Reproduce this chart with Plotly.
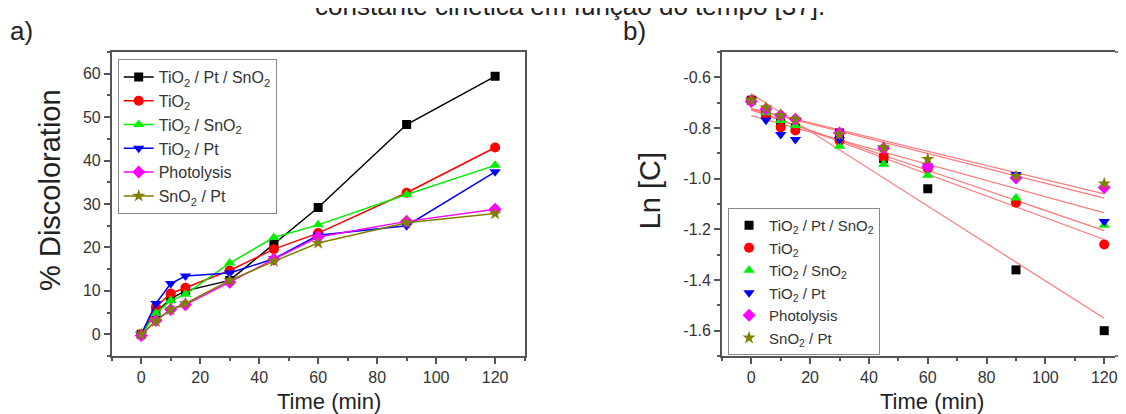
import numpy as np
import plotly.graph_objects as go

# ---------------- data ----------------
time_min = [0, 5, 10, 15, 30, 45, 60, 90, 120]

series_names = [
    "TiO<sub>2</sub> / Pt / SnO<sub>2</sub>",
    "TiO<sub>2</sub>",
    "TiO<sub>2</sub> / SnO<sub>2</sub>",
    "TiO<sub>2</sub> / Pt",
    "Photolysis",
    "SnO<sub>2</sub> / Pt",
]

# panel a) % discoloration
disc_tio2_pt_sno2 = [0, 5.0, 8.2, 10.0, 12.4, 20.7, 29.2, 48.3, 59.4]
disc_tio2 = [0, 6.3, 9.4, 10.7, 14.7, 19.6, 23.3, 32.6, 43.0]
disc_tio2_sno2 = [0, 4.8, 7.8, 9.2, 16.4, 22.3, 25.2, 32.2, 38.9]
disc_tio2_pt = [0, 7.1, 11.7, 13.4, 14.1, 17.4, 22.8, 25.0, 37.4]
disc_photolysis = [-0.3, 3.2, 5.7, 6.8, 12.0, 17.3, 22.4, 26.0, 28.8]
disc_sno2_pt = [0, 3.0, 5.7, 7.1, 12.4, 16.8, 21.0, 25.7, 27.8]

# panel b) Ln [C]
ln_tio2_pt_sno2 = [-0.69, -0.745, -0.78, -0.80, -0.82, -0.92, -1.04, -1.36, -1.60]
ln_tio2 = [-0.69, -0.755, -0.798, -0.81, -0.85, -0.914, -0.96, -1.095, -1.26]
ln_tio2_sno2 = [-0.69, -0.74, -0.77, -0.79, -0.872, -0.943, -0.987, -1.076, -1.184]
ln_tio2_pt = [-0.69, -0.769, -0.826, -0.845, -0.845, -0.88, -0.95, -0.984, -1.169]
ln_photolysis = [-0.695, -0.725, -0.75, -0.765, -0.82, -0.88, -0.953, -0.997, -1.035]
ln_sno2_pt = [-0.69, -0.72, -0.75, -0.765, -0.825, -0.877, -0.923, -0.99, -1.02]

x_ticks = [0, 20, 40, 60, 80, 100, 120]
ya_ticks = [0, 10, 20, 30, 40, 50, 60]
yb_ticks = [-0.6, -0.8, -1.0, -1.2, -1.4, -1.6]
yb_ticklabels = ["-0.6", "-0.8", "-1.0", "-1.2", "-1.4", "-1.6"]

title_text = "constante cinética em função do tempo [37]."

# ---------------- styles ----------------
colors = ["#000000", "#ff0000", "#00ee00", "#0000ff", "#ff00ff", "#808000"]
symbols = ["square", "circle", "triangle-up", "triangle-down", "diamond", "star"]
sizes = [9, 10, 10, 10, 10, 10]
FONT = "Liberation Sans, Arial, sans-serif"
TICKC = "#333333"
AXC = "#555555"
OFF = 8  # page body margin offset

disc_all = [disc_tio2_pt_sno2, disc_tio2, disc_tio2_sno2, disc_tio2_pt,
            disc_photolysis, disc_sno2_pt]
ln_all = [ln_tio2_pt_sno2, ln_tio2, ln_tio2_sno2, ln_tio2_pt,
          ln_photolysis, ln_sno2_pt]

fig = go.Figure()

# panel a
for name, vals, c, s, sz in zip(series_names, disc_all, colors, symbols, sizes):
    fig.add_trace(go.Scatter(
        x=time_min, y=vals, mode="lines+markers", name=name,
        line=dict(color=c, width=1.5),
        marker=dict(symbol=s, size=sz, color=c),
        xaxis="x", yaxis="y", legend="legend"))

# panel b: linear fits (drawn first)
xt = np.array(time_min, dtype=float)
for vals in ln_all:
    k, b = np.polyfit(xt, np.array(vals), 1)
    xs = np.array([time_min[0], time_min[-1]], dtype=float)
    fig.add_trace(go.Scatter(
        x=xs, y=k * xs + b, mode="lines", showlegend=False,
        line=dict(color="#ff7a7a", width=1.2), hoverinfo="skip",
        xaxis="x2", yaxis="y2"))

for name, vals, c, s, sz in zip(series_names, ln_all, colors, symbols, sizes):
    fig.add_trace(go.Scatter(
        x=time_min, y=vals, mode="markers", name=name,
        marker=dict(symbol=s, size=sz, color=c),
        xaxis="x2", yaxis="y2", legend="legend2"))

W, H = 1110, 406

def px(v):
    return (v - OFF) / W

def py(v):
    return 1 - (v - OFF) / H

ydom = [py(356), py(52)]

common_axis = dict(
    showgrid=False, zeroline=False, showline=True, linecolor=AXC, linewidth=1.5,
    ticks="outside", ticklen=6, tickwidth=1.5, tickcolor=AXC,
    tickfont=dict(family=FONT, size=16, color=TICKC),
)

# x range right end of panel b chosen so that 0 -> 753.3 px and 120 -> 1107.2 px
xb_right = 120 + (1118 - 1107.2) / 2.95

fig.update_layout(
    width=W, height=H, margin=dict(l=0, r=0, t=0, b=0),
    paper_bgcolor="white", plot_bgcolor="white",
    font=dict(family=FONT, color=TICKC),
    xaxis=dict(domain=[px(112), px(526)], range=[-10, 130], tickvals=x_ticks,
               mirror=True, anchor="y",
               minor=dict(dtick=10, tick0=0, ticklen=3, tickcolor=AXC, ticks="outside"),
               **common_axis),
    yaxis=dict(domain=ydom, range=[-5, 65], tickvals=ya_ticks, mirror=True,
               anchor="x",
               minor=dict(dtick=5, tick0=0, ticklen=3, tickcolor=AXC, ticks="outside"),
               **common_axis),
    xaxis2=dict(domain=[px(723.8), 1.0], range=[-10, xb_right], tickvals=x_ticks,
                mirror=True, anchor="y2", ticklabeloverflow="allow",
                minor=dict(dtick=10, tick0=0, ticklen=3, tickcolor=AXC, ticks="outside"),
                **common_axis),
    yaxis2=dict(domain=ydom, range=[-1.7, -0.5], tickvals=yb_ticks,
                ticktext=yb_ticklabels, mirror=False, anchor="x2",
                minor=dict(dtick=0.1, tick0=0, ticklen=3, tickcolor=AXC, ticks="outside"),
                **common_axis),
    legend=dict(x=px(118), y=py(59), xanchor="left", yanchor="top",
                bordercolor="#888888", borderwidth=1, bgcolor="white",
                font=dict(family=FONT, size=16, color=TICKC), tracegroupgap=0),
    legend2=dict(x=px(730), y=py(208), xanchor="left", yanchor="top",
                 bordercolor="#888888", borderwidth=1, bgcolor="white",
                 font=dict(family=FONT, size=15, color=TICKC), tracegroupgap=0),
    showlegend=True,
)

# continue panel b frame lines to the picture's right edge
for yy in ydom:
    fig.add_shape(type="line", xref="paper", yref="paper", x0=1.0, x1=px(1126),
                  y0=yy, y1=yy, line=dict(color=AXC, width=1.5))

def ann(text, x, y, size, angle=0, xanchor="center", yanchor="middle", color="#222222"):
    fig.add_annotation(text=text, x=px(x), y=py(y), xref="paper", yref="paper",
                       showarrow=False, textangle=angle, xanchor=xanchor, yanchor=yanchor,
                       font=dict(family=FONT, size=size, color=color))

ann(title_text, 572, 23, 26, yanchor="bottom")
ann("a)", 22, 31, 26)
ann("b)", 636, 31, 26)
ann("% Discoloration", 50, 190, 29, angle=-90)
ann("Ln [C]", 652, 191, 29, angle=-90)
ann("Time (min)", 330, 401, 22)
ann("Time (min)", 935, 401, 22)

fig.write_html("out.html")
